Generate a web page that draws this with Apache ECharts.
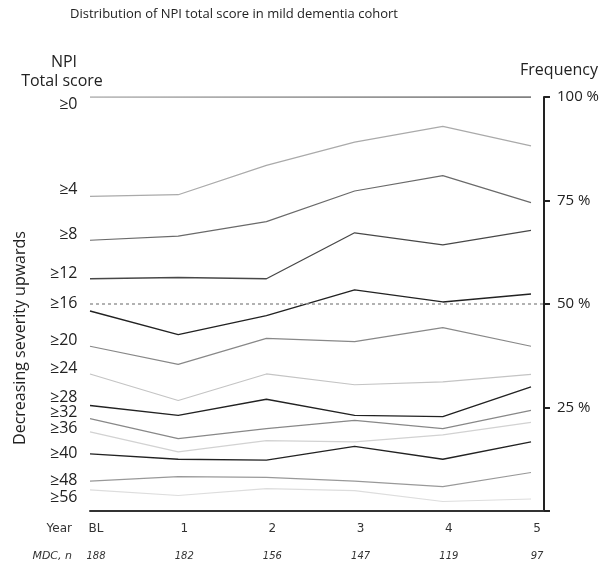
<!DOCTYPE html>
<html><head><meta charset="utf-8">
<script src="https://cdn.jsdelivr.net/npm/echarts@6/dist/echarts.min.js"></script>
<style>html,body{margin:0;padding:0;background:#fff}#c{width:602px;height:564px}</style>
</head><body><div id="c"></div>
<script>
// ---- data ----
const years = [0, 1, 2, 3, 4, 5];
const yearLabels = ['BL', '1', '2', '3', '4', '5'];
const mdcN = [188, 182, 156, 147, 119, 97];
const thresholds = ['≥0', '≥4', '≥8', '≥12', '≥16', '≥20', '≥24', '≥28', '≥32', '≥36', '≥40', '≥48', '≥56'];
const ge0  = [100, 100, 100, 100, 100, 100];
const ge4  = [76.0, 76.4, 83.5, 89.1, 92.9, 88.2];
const ge8  = [65.4, 66.4, 69.9, 77.3, 81.0, 74.5];
const ge12 = [56.1, 56.4, 56.1, 67.2, 64.3, 67.8];
const ge16 = [48.3, 42.6, 47.2, 53.4, 50.5, 52.4];
const ge20 = [39.8, 35.4, 41.7, 40.9, 44.3, 39.8];
const ge24 = [33.1, 26.7, 33.1, 30.5, 31.2, 33.0];
const ge28 = [25.5, 23.1, 27.0, 23.1, 22.8, 30.0];
const ge32 = [22.3, 17.5, 19.9, 21.9, 19.9, 24.3];
const ge36 = [19.1, 14.3, 17.0, 16.7, 18.4, 21.4];
const ge40 = [13.8, 12.5, 12.3, 15.6, 12.5, 16.7];
const ge48 = [7.2, 8.3, 8.1, 7.2, 5.9, 9.3];
const ge56 = [5.1, 3.75, 5.4, 4.9, 2.3, 2.9];
const seriesValues = [ge0, ge4, ge8, ge12, ge16, ge20, ge24, ge28, ge32, ge36, ge40, ge48, ge56];
const yTickValues = [0, 25, 50, 75, 100];
const referenceLine = 50;

// ---- styles ----
const lineColors = [
  {type:'linear', x:0, y:0, x2:1, y2:0, colorStops:[{offset:0,color:'#aaaaaa'},{offset:1,color:'#555555'}]},
  '#aaaaaa', '#6a6a6a', '#484848', '#222222', '#888888', '#c4c4c4', '#222222', '#888888', '#d2d2d2', '#222222', '#999999', '#dddddd'
];
const lineWidths = [1.6, 1.2, 1.2, 1.3, 1.4, 1.2, 1.2, 1.4, 1.2, 1.2, 1.4, 1.2, 1.2];
// vertical nudges (px) of the left-hand threshold labels, as in the reference layout
const labelNudge = [7, -7, -6, -5, -8, -6, -6, -8, -6, -3, 0, -1, 8];
const FONT = "'Open Sans', 'Noto Sans', sans-serif";

const chart = echarts.init(document.getElementById('c'), null, {renderer: 'canvas'});

const series = seriesValues.map((vals, i) => ({
  type: 'line',
  name: thresholds[i],
  symbol: 'circle',
  symbolSize: 1,
  showSymbol: true,
  silent: true,
  itemStyle: {color: 'rgba(0,0,0,0)'},
  lineStyle: {color: lineColors[i], width: lineWidths[i]},
  data: vals.map((v, j) => j === 0 ? {
    value: [years[j], v],
    label: {show: true, position: 'left', distance: 12, offset: [0, labelNudge[i]], formatter: thresholds[i],
            fontFamily: FONT, fontSize: 16, color: '#222'}
  } : [years[j], v]),
  markLine: i === 4 ? {
    silent: true, symbol: 'none', label: {show: false},
    lineStyle: {type: [3, 3], color: '#999', width: 1.5},
    data: [{yAxis: referenceLine}]
  } : undefined,
  z: 3
}));

chart.setOption({
  animation: false,
  backgroundColor: '#fff',
  grid: {left: 90, right: 56, top: 97, bottom: 53},
  xAxis: [{
    type: 'value', min: 0, max: 5.147, interval: 1,
    axisLine: {show: true, onZero: false, lineStyle: {color: '#333', width: 2}},
    axisTick: {show: false},
    splitLine: {show: false},
    axisLabel: {
      margin: 12, fontFamily: "'DejaVu Sans', sans-serif", fontSize: 12, color: '#333',
      padding: [0, 0, 0, 12],
      formatter: v => (Number.isInteger(v) && v >= 0 && v <= 5) ? yearLabels[v] : ''
    }
  }, {
    type: 'value', min: 0, max: 5.147, interval: 1, position: 'bottom',
    axisLine: {show: false, onZero: false}, axisTick: {show: false}, splitLine: {show: false},
    axisLabel: {
      margin: 40, fontFamily: "'DejaVu Sans', sans-serif", fontSize: 10, fontStyle: 'italic', color: '#333',
      padding: [0, 0, 0, 12],
      formatter: v => (Number.isInteger(v) && v >= 0 && v <= 5) ? String(mdcN[v]) : ''
    }
  }],
  yAxis: {
    type: 'value', min: 0, max: 100, position: 'right',
    axisLine: {show: true, onZero: false, lineStyle: {color: '#222', width: 2}},
    axisTick: {show: true, inside: false, length: 6, lineStyle: {color: '#222', width: 2}, customValues: yTickValues},
    splitLine: {show: false},
    axisLabel: {
      margin: 13, fontFamily: FONT, fontSize: 15, color: '#222',
      customValues: yTickValues.filter(v => v > 0),
      formatter: v => v + ' %'
    }
  },
  series: series,
  graphic: [
    {type: 'text', left: 70, top: 8, style: {text: 'Distribution of NPI total score in mild dementia cohort', font: "13px " + FONT, fill: '#222'}},
    {type: 'text', x: 64, y: 62, style: {text: 'NPI', font: "16px " + FONT, fill: '#222', textAlign: 'center', textVerticalAlign: 'middle'}},
    {type: 'text', x: 62, y: 81, style: {text: 'Total score', font: "16px " + FONT, fill: '#222', textAlign: 'center', textVerticalAlign: 'middle'}},
    {type: 'text', x: 559, y: 70, style: {text: 'Frequency', font: "16px " + FONT, fill: '#222', textAlign: 'center', textVerticalAlign: 'middle'}},
    {type: 'text', x: 20, y: 338, rotation: Math.PI / 2, style: {text: 'Decreasing severity upwards', font: "16px " + FONT, fill: '#222', textAlign: 'center', textVerticalAlign: 'middle'}},
    {type: 'text', x: 72, y: 529, style: {text: 'Year', font: "12px 'DejaVu Sans', sans-serif", fill: '#333', textAlign: 'right', textVerticalAlign: 'middle'}},
    {type: 'text', x: 72, y: 556, style: {text: 'MDC, n', font: "italic 11px 'DejaVu Sans', sans-serif", fill: '#333', textAlign: 'right', textVerticalAlign: 'middle'}}
  ]
});
</script>
</body></html>
